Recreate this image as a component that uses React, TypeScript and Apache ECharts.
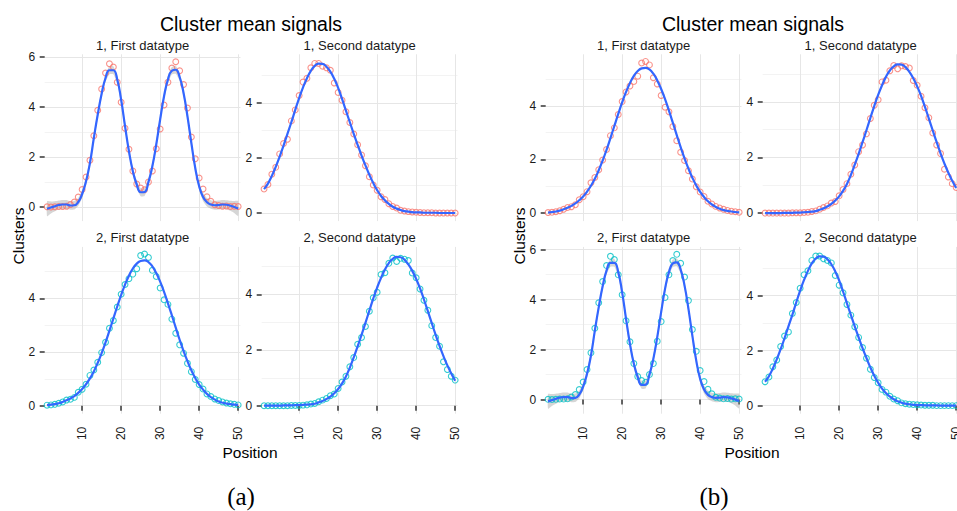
import React, { useEffect, useRef } from 'react';
import * as echarts from 'echarts';

// Position index along each signal (1..50)
const positions: number[] = Array.from({ length: 50 }, (_, i) => i + 1);

// Two-peak profile: observed cluster means and smooth fit (with band half-width)
const bimodalPoints = [
  0.01, 0.0, 0.01, 0.02, 0.02, 0.03, 0.1, 0.2, 0.4, 0.7,
  1.2, 1.87, 2.85, 3.87, 4.72, 5.36, 5.73, 5.6, 4.99, 4.19,
  3.15, 2.31, 1.44, 0.92, 0.76, 0.69, 1.0, 1.44, 2.33, 3.12,
  4.08, 4.99, 5.56, 5.81, 5.45, 4.9, 3.96, 2.8, 1.93, 1.16,
  0.72, 0.41, 0.23, 0.09, 0.06, 0.03, 0.04, 0.02, 0.03, 0.02,
];
const bimodalFit = [
  -0.07, -0.02, 0.03, 0.08, 0.1, 0.1, 0.06, 0.07, 0.2, 0.52,
  1.03, 1.76, 2.76, 3.7, 4.53, 5.16, 5.47, 5.47, 5.1, 4.29,
  3.23, 2.23, 1.43, 0.9, 0.59, 0.6, 1.0, 1.63, 2.5, 3.5,
  4.43, 5.1, 5.45, 5.49, 5.2, 4.56, 3.63, 2.56, 1.56, 0.83,
  0.4, 0.19, 0.1, 0.07, 0.08, 0.1, 0.09, 0.05, 0.0, -0.06,
];
const bimodalBand = [
  0.3, 0.24, 0.2, 0.18, 0.18, 0.18, 0.17, 0.17, 0.16, 0.16,
  0.15, 0.15, 0.15, 0.15, 0.15, 0.15, 0.16, 0.16, 0.15, 0.15,
  0.15, 0.15, 0.15, 0.15, 0.16, 0.16, 0.15, 0.15, 0.15, 0.15,
  0.15, 0.15, 0.15, 0.16, 0.16, 0.15, 0.15, 0.15, 0.15, 0.15,
  0.16, 0.17, 0.17, 0.18, 0.18, 0.18, 0.18, 0.2, 0.24, 0.3,
];

// Early peak (around position 15)
const earlyPoints = [
  0.87, 1.04, 1.41, 1.66, 2.15, 2.53, 2.68, 3.35, 3.75, 4.27,
  4.76, 4.9, 5.28, 5.44, 5.44, 5.34, 5.28, 5.19, 4.73, 4.38,
  4.1, 3.68, 3.29, 2.87, 2.48, 2.11, 1.72, 1.32, 1.02, 0.83,
  0.59, 0.49, 0.34, 0.24, 0.18, 0.1, 0.07, 0.05, 0.04, 0.03,
  0.02, 0.01, 0.01, 0.01, 0.0, 0.0, 0.0, 0.0, 0.0, 0.0,
];
const earlyFit = [
  0.87, 1.07, 1.35, 1.68, 2.05, 2.45, 2.88, 3.3, 3.75, 4.18,
  4.57, 4.9, 5.17, 5.35, 5.43, 5.42, 5.32, 5.14, 4.88, 4.55,
  4.15, 3.72, 3.3, 2.88, 2.48, 2.09, 1.73, 1.39, 1.09, 0.83,
  0.62, 0.46, 0.33, 0.23, 0.16, 0.11, 0.07, 0.05, 0.03, 0.02,
  0.02, 0.01, 0.01, 0.01, 0.01, 0.0, 0.0, 0.0, 0.0, 0.0,
];

// Central peak (around position 26)
const centralPoints = [
  0.02, 0.03, 0.05, 0.09, 0.14, 0.21, 0.24, 0.31, 0.5, 0.61,
  0.8, 1.13, 1.33, 1.62, 1.98, 2.37, 2.89, 3.18, 3.68, 4.16,
  4.52, 4.74, 4.91, 5.11, 5.6, 5.66, 5.53, 5.05, 4.82, 4.39,
  3.95, 3.78, 3.23, 2.7, 2.27, 1.96, 1.58, 1.27, 0.98, 0.79,
  0.62, 0.44, 0.34, 0.25, 0.19, 0.14, 0.1, 0.07, 0.05, 0.03,
];
const centralFit = [
  0.02, 0.04, 0.06, 0.09, 0.14, 0.2, 0.27, 0.36, 0.48, 0.62,
  0.8, 1.02, 1.28, 1.6, 1.96, 2.36, 2.8, 3.25, 3.7, 4.13,
  4.52, 4.85, 5.12, 5.3, 5.4, 5.42, 5.36, 5.2, 4.95, 4.63,
  4.25, 3.82, 3.37, 2.91, 2.46, 2.04, 1.66, 1.32, 1.03, 0.79,
  0.6, 0.44, 0.32, 0.23, 0.16, 0.11, 0.08, 0.06, 0.04, 0.03,
];

// Late peak (around position 35)
const latePoints = [
  0.0, 0.0, 0.0, 0.0, 0.0, 0.0, 0.0, 0.01, 0.01, 0.01,
  0.02, 0.03, 0.06, 0.08, 0.14, 0.2, 0.26, 0.36, 0.42, 0.62,
  0.85, 1.06, 1.4, 1.73, 2.21, 2.45, 2.85, 3.4, 3.88, 4.08,
  4.72, 4.78, 5.12, 5.31, 5.19, 5.3, 5.27, 5.22, 4.77, 4.6,
  4.2, 3.79, 3.43, 2.88, 2.45, 2.14, 1.58, 1.3, 1.06, 0.92,
];
const lateFit = [
  0.0, 0.0, 0.0, 0.0, 0.0, 0.01, 0.01, 0.01, 0.02, 0.02,
  0.03, 0.04, 0.05, 0.07, 0.12, 0.17, 0.24, 0.33, 0.45, 0.6,
  0.8, 1.05, 1.37, 1.74, 2.13, 2.55, 2.98, 3.42, 3.85, 4.25,
  4.6, 4.9, 5.13, 5.28, 5.35, 5.34, 5.25, 5.08, 4.85, 4.56,
  4.22, 3.82, 3.4, 2.97, 2.55, 2.15, 1.78, 1.45, 1.16, 0.9,
];

// Axis breaks
const xBreaks = [10, 20, 30, 40, 50];
const yMajorBreaks = [0, 2, 4, 6];
const yMinorBreaks = [1, 3, 5];

const FONT = '"Liberation Sans", Arial, Helvetica, sans-serif';
const RED = '#F8766D';
const CYAN = '#00BFC4';
const FIT_BLUE = '#3366FF';

type Profile = {
  points: number[];
  fit: number[];
  band?: number[];
  yMin: number;
  yMax: number;
};

const profiles: Record<string, Profile> = {
  bimodal: { points: bimodalPoints, fit: bimodalFit, band: bimodalBand, yMin: -0.564, yMax: 6.108 },
  early: { points: earlyPoints, fit: earlyFit, yMin: -0.294, yMax: 5.771 },
  central: { points: centralPoints, fit: centralFit, yMin: -0.299, yMax: 5.925 },
  late: { points: latePoints, fit: lateFit, yMin: -0.288, yMax: 5.712 },
};

type Panel = { fig: number; row: number; col: number; label: string; profile: string; color: string };

const panels: Panel[] = [
  { fig: 0, row: 0, col: 0, label: '1, First datatype', profile: 'bimodal', color: RED },
  { fig: 0, row: 0, col: 1, label: '1, Second datatype', profile: 'early', color: RED },
  { fig: 0, row: 1, col: 0, label: '2, First datatype', profile: 'central', color: CYAN },
  { fig: 0, row: 1, col: 1, label: '2, Second datatype', profile: 'late', color: CYAN },
  { fig: 1, row: 0, col: 0, label: '1, First datatype', profile: 'central', color: RED },
  { fig: 1, row: 0, col: 1, label: '1, Second datatype', profile: 'late', color: RED },
  { fig: 1, row: 1, col: 0, label: '2, First datatype', profile: 'bimodal', color: CYAN },
  { fig: 1, row: 1, col: 1, label: '2, Second datatype', profile: 'early', color: CYAN },
];

// Facet geometry
const FIG_LEFT = [44.7, 545.7];
const COL_STEP = 217;
const PANEL_W = 195.8;
const ROW_TOP = [54.3, 246.9];
const PANEL_H = 166.8;

const FIG_TITLE_X = [251, 753];
const FIG_YTITLE_X = [18.5, 519];
const SUBCAPTIONS = [
  { text: '(a)', x: 241 },
  { text: '(b)', x: 714 },
];

const centered = { textAlign: 'center', textVerticalAlign: 'middle', align: 'center', verticalAlign: 'middle' };

function buildOption() {
  const grid: any[] = [];
  const xAxis: any[] = [];
  const yAxis: any[] = [];
  const series: any[] = [];
  const graphic: any[] = [];

  panels.forEach((p, i) => {
    const prof = profiles[p.profile];
    const left = FIG_LEFT[p.fig] + p.col * COL_STEP;
    const top = ROW_TOP[p.row];
    const isBottom = p.row === 1;

    grid.push({ left, top, width: PANEL_W, height: PANEL_H, containLabel: false, outerBoundsMode: 'none' });

    xAxis.push({
      type: 'value',
      gridIndex: i,
      min: 0.4,
      max: 50.6,
      offset: isBottom ? 3 : 0,
      axisLine: { show: false },
      axisTick: {
        show: isBottom,
        customValues: xBreaks,
        length: 5,
        lineStyle: { color: '#333333', width: 1.5 },
      },
      axisLabel: {
        show: isBottom,
        customValues: xBreaks,
        rotate: 90,
        margin: 10,
        fontSize: 12,
        fontFamily: FONT,
        color: '#1a1a1a',
      },
      splitLine: { show: true, lineStyle: { color: '#e6e6e6', width: 1 } },
    });

    const majors = yMajorBreaks.filter((v) => v >= prof.yMin && v <= prof.yMax);
    const minors = yMinorBreaks.filter((v) => v >= prof.yMin && v <= prof.yMax);

    const majorAxisIndex = yAxis.length;
    yAxis.push({
      type: 'value',
      gridIndex: i,
      position: 'left',
      min: prof.yMin,
      max: prof.yMax,
      axisLine: { show: false },
      axisTick: {
        show: true,
        customValues: majors,
        length: 5,
        lineStyle: { color: '#333333', width: 1.5 },
      },
      axisLabel: {
        customValues: majors,
        margin: 9.5,
        fontSize: 12,
        fontFamily: FONT,
        color: '#1a1a1a',
      },
      splitLine: { show: true, lineStyle: { color: '#e6e6e6', width: 1 } },
    });
    yAxis.push({
      type: 'value',
      gridIndex: i,
      position: 'left',
      min: prof.yMin,
      max: prof.yMax,
      axisLine: { show: false },
      axisTick: { show: false, customValues: minors },
      axisLabel: { show: false, customValues: minors },
      splitLine: { show: true, lineStyle: { color: '#f3f3f3', width: 1 } },
    });

    if (prof.band) {
      const band = prof.band;
      const fit = prof.fit;
      // confidence ribbon around the smooth fit: [position, lower, upper]
      const ribbon = positions.map((x, k) => [x, fit[k] - band[k], fit[k] + band[k]]);
      series.push({
        type: 'custom',
        xAxisIndex: i,
        yAxisIndex: majorAxisIndex,
        silent: true,
        clip: true,
        z: 1,
        data: ribbon,
        encode: { x: 0, y: [1, 2] },
        renderItem: (params: any, api: any) => {
          if (params.dataIndex !== 0) return null;
          const upper = ribbon.map((r) => api.coord([r[0], r[2]]));
          const lower = ribbon.map((r) => api.coord([r[0], r[1]])).reverse();
          return {
            type: 'polygon',
            shape: { points: upper.concat(lower), smooth: 0.15 },
            style: { fill: 'rgba(153,153,153,0.4)', stroke: 'none' },
          };
        },
      });
    }

    series.push({
      type: 'scatter',
      xAxisIndex: i,
      yAxisIndex: majorAxisIndex,
      symbol: 'circle',
      symbolSize: 5.8,
      silent: true,
      itemStyle: { color: 'rgba(0,0,0,0)', borderColor: p.color, borderWidth: 1.1 },
      data: positions.map((x, k) => [x, prof.points[k]]),
      z: 2,
    });

    series.push({
      type: 'line',
      xAxisIndex: i,
      yAxisIndex: majorAxisIndex,
      smooth: true,
      symbol: 'none',
      silent: true,
      lineStyle: { color: FIT_BLUE, width: 2.2 },
      data: positions.map((x, k) => [x, prof.fit[k]]),
      z: 3,
    });

    // facet strip label
    graphic.push({
      type: 'text',
      x: left + PANEL_W / 2,
      y: top - 9,
      style: { text: p.label, font: `13px ${FONT}`, fill: '#1a1a1a', ...centered },
    });
  });

  [0, 1].forEach((f) => {
    graphic.push({
      type: 'text',
      x: FIG_TITLE_X[f],
      y: 24,
      style: { text: 'Cluster mean signals', font: `19.5px ${FONT}`, fill: '#000000', ...centered },
    });
    graphic.push({
      type: 'text',
      x: FIG_TITLE_X[f] - 1,
      y: 452,
      style: { text: 'Position', font: `15.5px ${FONT}`, fill: '#000000', ...centered },
    });
    graphic.push({
      type: 'text',
      x: FIG_YTITLE_X[f],
      y: 236,
      rotation: Math.PI / 2,
      style: { text: 'Clusters', font: `15.5px ${FONT}`, fill: '#000000', ...centered },
    });
    graphic.push({
      type: 'text',
      x: SUBCAPTIONS[f].x,
      y: 496,
      style: {
        text: SUBCAPTIONS[f].text,
        font: '25px "Liberation Serif", "DejaVu Serif", serif',
        fill: '#000000',
        ...centered,
      },
    });
  });

  return {
    animation: false,
    backgroundColor: '#ffffff',
    grid,
    xAxis,
    yAxis,
    series,
    graphic,
  };
}

export default function App() {
  const ref = useRef<HTMLDivElement>(null);

  useEffect(() => {
    if (!ref.current) return;
    const chart = echarts.init(ref.current, undefined, { renderer: 'svg' });
    chart.setOption(buildOption() as any);
    return () => {
      chart.dispose();
    };
  }, []);

  return (
    <div
      ref={ref}
      style={{ position: 'absolute', left: 0, top: 0, width: 957, height: 511 }}
    />
  );
}
